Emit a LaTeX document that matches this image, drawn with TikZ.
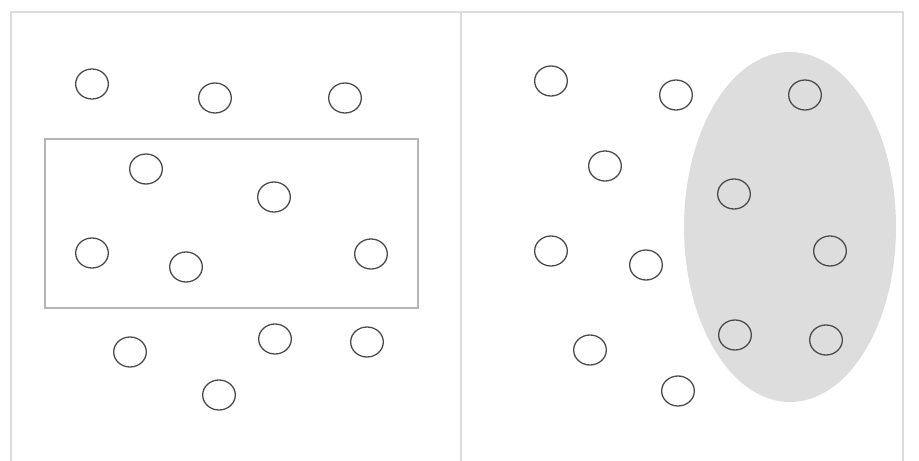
\documentclass[tikz,border=0pt]{standalone}
\definecolor{framegray}{HTML}{DCDCDC}
\definecolor{boxgray}{HTML}{B4B4B4}
\definecolor{ringgray}{HTML}{4A4A4A}
\definecolor{blobgray}{HTML}{DDDDDD}
\usepackage{tikz}
\usetikzlibrary{shapes.geometric}
\tikzset{
  pt/.style={ellipse,draw=ringgray,line width=1.1pt,minimum width=0.98cm,minimum height=0.9cm,inner sep=0pt},
}

\begin{document}
\begin{tikzpicture}[x=0.03cm,y=-0.03cm]
  \useasboundingbox (0,0) rectangle (919,461);
  % two panels
  \draw[framegray,line width=1.4pt] (11,12) rectangle (903,462);
  \draw[framegray,line width=1.4pt] (461,12) -- (461,462);
  % left panel: selection box
  \draw[boxgray,line width=1.3pt] (45,139) rectangle (418,308);
  \foreach \n/\x/\y in {a1/92/84, a2/215/98, a3/345/98, a4/146/169, a5/274/197,
      a6/92/253, a7/186/267, a8/371/254, a9/130/352, a10/275/339, a11/367/342, a12/219/395}
    \node[pt] (\n) at (\x,\y) {};
  % right panel: cluster region
  \fill[blobgray] (790,227) ellipse (106 and 175);
  \foreach \n/\x/\y in {b1/551/81, b2/676/95, b3/805/95, b4/605/166, b5/734/194,
      b6/551/251, b7/646/265, b8/830/251, b9/590/350, b10/735/335, b11/826/340, b12/678/391}
    \node[pt] (\n) at (\x,\y) {};
\end{tikzpicture}
\end{document}
